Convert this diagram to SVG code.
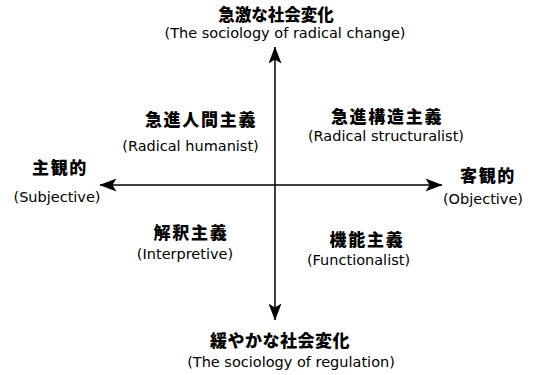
<svg xmlns="http://www.w3.org/2000/svg" width="534" height="375" viewBox="0 0 534 375">
<style>
.jp{font-family:"Noto Sans CJK JP","Noto Sans",sans-serif;font-size:17px;font-weight:900;fill:#000;text-anchor:middle;letter-spacing:1.7px}
.tt{letter-spacing:0;font-size:16.5px}
.bt{letter-spacing:0.5px}
.en{font-family:"DejaVu Sans","Liberation Sans",sans-serif;font-size:14.5px;fill:#000;text-anchor:middle}
.ax{stroke:#000;stroke-width:1.5;fill:none}
</style>
<defs>
<marker id="ah" viewBox="0 0 17 13" refX="16.5" refY="6.5" markerWidth="17" markerHeight="13" markerUnits="userSpaceOnUse" orient="auto">
<path d="M0,0 L17,6.5 L0,13 L4,6.5 Z" fill="#000"/>
</marker>
</defs>
<rect width="534" height="375" fill="#fff"/>
<g id="connectors">
<line class="ax" x1="275" y1="185" x2="275" y2="47" marker-end="url(#ah)"/>
<line class="ax" x1="275" y1="185" x2="275" y2="320" marker-end="url(#ah)"/>
<line class="ax" x1="275" y1="185" x2="100" y2="185" marker-end="url(#ah)"/>
<line class="ax" x1="275" y1="185" x2="442" y2="185" marker-end="url(#ah)"/>
</g>
<g id="top"><text class="jp tt" x="276" y="21">急激な社会変化</text><text class="en" x="285" y="38">(The sociology of radical change)</text></g>
<g id="radical-humanist"><text class="jp" x="201" y="126">急進人間主義</text><text class="en" x="190.5" y="151">(Radical humanist)</text></g>
<g id="radical-structuralist"><text class="jp" x="387" y="123">急進構造主義</text><text class="en" x="386" y="141">(Radical structuralist)</text></g>
<g id="subjective"><text class="jp" x="60" y="174">主観的</text><text class="en" x="57" y="202">(Subjective)</text></g>
<g id="objective"><text class="jp" x="488" y="182">客観的</text><text class="en" x="483" y="204">(Objective)</text></g>
<g id="interpretive"><text class="jp" x="191" y="239">解釈主義</text><text class="en" x="185" y="259">(Interpretive)</text></g>
<g id="functionalist"><text class="jp" x="367" y="246">機能主義</text><text class="en" x="358.5" y="265">(Functionalist)</text></g>
<g id="bottom"><text class="jp bt" x="280" y="347">緩やかな社会変化</text><text class="en" x="291" y="367">(The sociology of regulation)</text></g>
</svg>
